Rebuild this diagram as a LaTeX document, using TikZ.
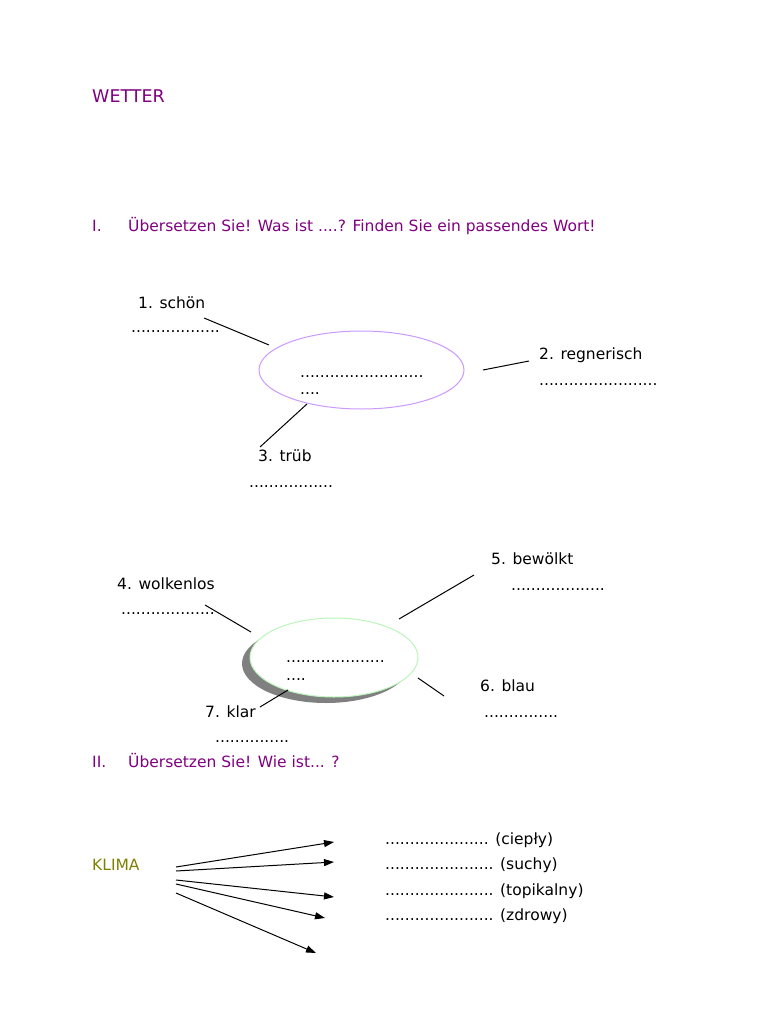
\documentclass[tikz,border=0pt]{standalone}
\usepackage{fontspec}
\setmainfont{DejaVu Sans}
\usetikzlibrary{arrows.meta,shapes.geometric}
\definecolor{wpurple}{HTML}{800080}
\definecolor{wolive}{HTML}{808000}
\definecolor{lilac}{HTML}{CC99FF}
\definecolor{mint}{HTML}{BBF5BB}
\definecolor{shade}{HTML}{808080}
\begin{document}
\begin{tikzpicture}[x=1pt,y=-1pt,
  txt/.style={anchor=base west,inner sep=0pt,font=\fontsize{15.5}{18}\selectfont},
  head/.style={txt,text=wpurple},
  link/.style={draw=black,line width=1pt},
  arr/.style={link,-{Triangle[length=10pt,width=7pt]}},
  bubble/.style={ellipse,inner sep=0pt,line width=1pt}]
\useasboundingbox (0,0) rectangle (768,1024);
\fill[white] (0,0) rectangle (768,1024);

% headings
\node[head,font=\fontsize{17.5}{20}\selectfont] (title) at (92,102.3) {WETTER};
\node[head] (n1) at (92,232) {I.};
\node[head] (t1) at (128,232) {Übersetzen Sie! Was ist ....? Finden Sie ein passendes Wort!};

% group 1
\node[bubble,draw=lilac,minimum width=205pt,minimum height=78pt] (e1) at (361.5,370) {};
\node[txt] (e1a) at (300,377) {.........................};
\node[txt] (e1b) at (300,394) {....};
\node[txt] (w1) at (138,308) {1. schön};
\node[txt] (d1) at (131,332) {..................};
\node[txt] (w2) at (539,359) {2. regnerisch};
\node[txt] (d2) at (539,385) {........................};
\node[txt] (w3) at (258,461) {3. trüb};
\node[txt] (d3) at (249,487) {.................};
\coordinate (l1a) at (204,318); \coordinate (l1b) at (269,345);
\coordinate (l2a) at (483,370); \coordinate (l2b) at (529,361);
\coordinate (l3a) at (307,404); \coordinate (l3b) at (260,447);
\draw[link] (l1a) -- (l1b);
\draw[link] (l2a) -- (l2b);
\draw[link] (l3a) -- (l3b);

% group 2
\node[bubble,fill=shade,minimum width=168pt,minimum height=79pt] (sh) at (326,663.5) {};
\node[bubble,draw=mint,fill=white,minimum width=168pt,minimum height=79pt] (e2) at (334,657.5) {};
\node[txt] (e2a) at (286,662) {....................};
\node[txt] (e2b) at (286,680) {....};
\node[txt] (w5) at (491,564) {5. bewölkt};
\node[txt] (d5) at (511,590) {...................};
\node[txt] (w4) at (117,589) {4. wolkenlos};
\node[txt] (d4) at (121,614) {...................};
\node[txt] (w6) at (480,691) {6. blau};
\node[txt] (d6) at (484,717) {...............};
\node[txt] (w7) at (205,717) {7. klar};
\node[txt] (d7) at (215,742) {...............};
\coordinate (l4a) at (205,605); \coordinate (l4b) at (251,632);
\coordinate (l5a) at (474,575); \coordinate (l5b) at (399,619);
\coordinate (l6a) at (418,678); \coordinate (l6b) at (444,696);
\coordinate (l7a) at (288,690); \coordinate (l7b) at (260,707);
\draw[link] (l4a) -- (l4b);
\draw[link] (l5a) -- (l5b);
\draw[link] (l6a) -- (l6b);
\draw[link] (l7a) -- (l7b);

% section II
\node[head] (n2) at (92,767) {II.};
\node[head] (t2) at (128,767) {Übersetzen Sie! Wie ist... ?};
\node[txt,text=wolive] (klima) at (92,870) {KLIMA};
\coordinate (s1) at (176,867); \coordinate (z1) at (334,842);
\coordinate (s2) at (176,871); \coordinate (z2) at (334,862);
\coordinate (s3) at (176,880); \coordinate (z3) at (334,897);
\coordinate (s4) at (176,884); \coordinate (z4) at (325,918);
\coordinate (s5) at (176,893); \coordinate (z5) at (316,953);
\draw[arr] (s1) -- (z1);
\draw[arr] (s2) -- (z2);
\draw[arr] (s3) -- (z3);
\draw[arr] (s4) -- (z4);
\draw[arr] (s5) -- (z5);
\node[txt] (k1) at (385,844) {..................... (ciepły)};
\node[txt] (k2) at (385,869) {...................... (suchy)};
\node[txt] (k3) at (385,895) {...................... (topikalny)};
\node[txt] (k4) at (385,920) {...................... (zdrowy)};
\end{tikzpicture}
\end{document}
